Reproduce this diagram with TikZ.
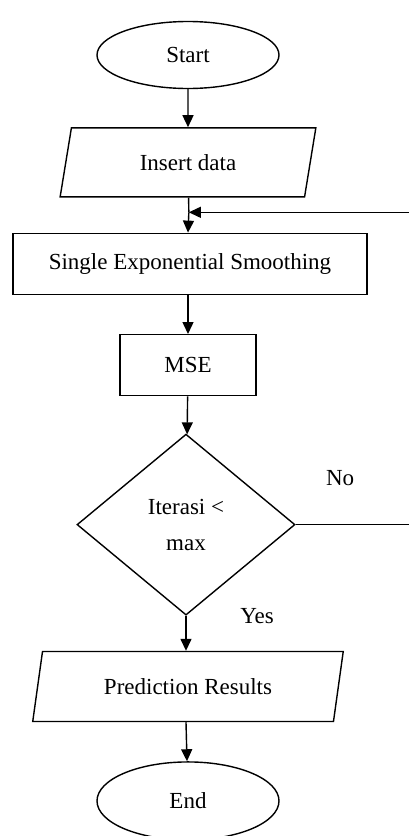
\documentclass[tikz,border=0pt]{standalone}
\usepackage{fontspec}
\setmainfont{Liberation Serif}
\usetikzlibrary{arrows.meta,shapes.geometric,positioning}

\begin{document}
\begin{tikzpicture}[x=1pt,y=1pt,node distance=37pt,line width=1.4pt,
    >={Triangle[length=12pt,width=11pt]},font=\fontsize{23}{28}\selectfont]
  \useasboundingbox (0,0) rectangle (409,-836);
  \tikzstyle{terminal}=[draw,ellipse,minimum width=182pt,minimum height=67pt]
  \tikzstyle{io}=[draw,trapezium,trapezium stretches=true,minimum height=69pt]
  \tikzstyle{process}=[draw,rectangle,minimum height=61pt]
  \tikzstyle{decision}=[draw,diamond,minimum width=218pt,minimum height=181pt,
    align=center,inner sep=0pt]

  \node[terminal] (start) at (188,-55) {Start};
  \node[io,trapezium left angle=77.7,trapezium right angle=102.3,minimum width=256pt]
    (data) [below=38pt of start] {Insert data};
  \node[process,minimum width=354pt,xshift=2pt] (ses) [below=35pt of data] {Single Exponential Smoothing};
  \node[process,minimum width=136pt,xshift=-2pt] (mse) [below=39pt of ses] {MSE};
  \node[decision,xshift=-2pt] (dec) [below=of mse] {Iterasi <\\[8pt]max};
  \node[io,trapezium left angle=75.6,trapezium right angle=104.4,minimum width=311pt,
    minimum height=70pt,xshift=2pt] (pred) [below=35pt of dec] {Prediction Results};
  \node[terminal,minimum height=78pt] (end) [below=39pt of pred] {End};

  \path (data.south) -- (ses.north) coordinate[pos=0.42] (join);

  \draw[->] (start) -- (data);
  \draw (data) -- (join);
  \draw[->] (join) -- (data.south |- ses.north);
  \draw[->] (ses.south -| mse.north) -- (mse);
  \draw[->] (mse) -- (dec);
  \draw[->] (dec.south) -- node[pos=0,xshift=71pt] {Yes} (dec.south |- pred.north);
  \draw[->] (pred.south -| dec.south) -- (end);
  \draw[->] (dec.east) -- node[pos=0.38,yshift=47pt] {No} ++(117,0) |- (join);
\end{tikzpicture}
\end{document}
